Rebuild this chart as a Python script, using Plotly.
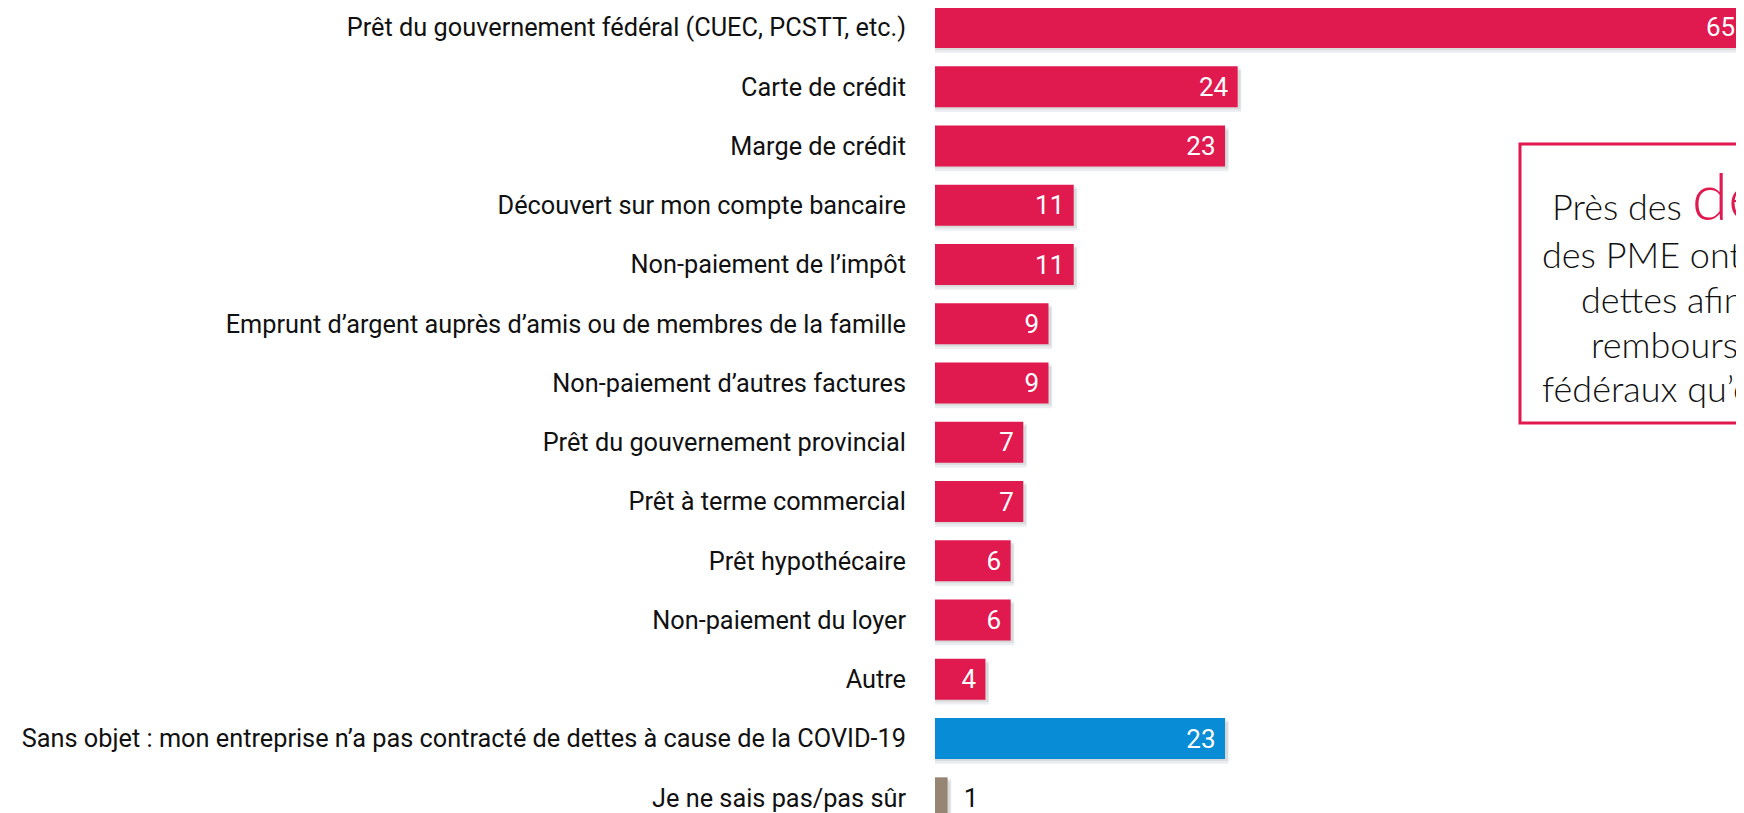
import plotly.graph_objects as go

# Données (en %)
categories = [
    "Prêt du gouvernement fédéral (CUEC, PCSTT, etc.)",
    "Carte de crédit",
    "Marge de crédit",
    "Découvert sur mon compte bancaire",
    "Non-paiement de l’impôt",
    "Emprunt d’argent auprès d’amis ou de membres de la famille",
    "Non-paiement d’autres factures",
    "Prêt du gouvernement provincial",
    "Prêt à terme commercial",
    "Prêt hypothécaire",
    "Non-paiement du loyer",
    "Autre",
    "Sans objet : mon entreprise n’a pas contracté de dettes à cause de la COVID-19",
    "Je ne sais pas/pas sûr",
]
values = [65, 24, 23, 11, 11, 9, 9, 7, 7, 6, 6, 4, 23, 1]
kinds = ["dette"] * 12 + ["sans_objet", "ne_sait_pas"]

callout_head = ("Près des ", "deux tiers")
callout_lines = [
    "des PME ont contracté des",
    "dettes afin de pouvoir",
    "rembourser les prêts",
    "fédéraux qu’elles ont reçus",
]

RED = "#E0194F"
COLORS = {"dette": RED, "sans_objet": "#078CD5", "ne_sait_pas": "#978574"}

# la page ajoute une marge de 8 px autour de la figure
PAGE_MARGIN = 8
W, H = 1744 - PAGE_MARGIN, 813 - PAGE_MARGIN
LEFT = 935 - PAGE_MARGIN
X_MAX = 64.15
BAR_W = 0.69
NUM_FONT = dict(family="Roboto", size=26)


def px_x(px):
    return (px - PAGE_MARGIN - LEFT) / (W - LEFT)


def px_y(py):
    return 1 - (py - PAGE_MARGIN) / H


fig = go.Figure()

# ombre légère sous les barres
for shift, alpha in ((0.075, 0.07), (0.04, 0.08)):
    fig.add_bar(
        x=[v + 0.25 for v in values],
        y=categories,
        orientation="h",
        width=BAR_W,
        offset=-BAR_W / 2 + shift,
        marker_color=f"rgba(0,0,0,{alpha})",
        hoverinfo="skip",
        showlegend=False,
    )

positions = []
for v in values:
    if v > X_MAX:
        positions.append("none")
    elif v < 2:
        positions.append("outside")
    else:
        positions.append("inside")

fig.add_bar(
    x=values,
    y=categories,
    orientation="h",
    width=BAR_W,
    offset=-BAR_W / 2,
    marker_color=[COLORS[k] for k in kinds],
    marker_line_width=0,
    text=[
        f"\u2002{v}" if p == "outside" else f"{v}\u00a0"
        for v, p in zip(values, positions)
    ],
    textposition=positions,
    insidetextanchor="end",
    textfont=dict(
        **NUM_FONT,
        color=["#111111" if p == "outside" else "white" for p in positions],
    ),
    cliponaxis=False,
    showlegend=False,
)

# étiquette des barres qui dépassent le bord droit
for cat, v in zip(categories, values):
    if v > X_MAX:
        fig.add_annotation(
            x=X_MAX,
            y=cat,
            xanchor="right",
            xshift=-7,
            showarrow=False,
            text=str(v),
            font=dict(**NUM_FONT, color="white"),
        )

fig.update_layout(
    width=W,
    height=H,
    barmode="overlay",
    margin=dict(l=LEFT, r=0, t=0, b=0),
    paper_bgcolor="white",
    plot_bgcolor="white",
    font=dict(family="Roboto", color="#111111"),
    uniformtext=dict(mode="show", minsize=20),
)
fig.update_xaxes(range=[0, X_MAX], visible=False)
fig.update_yaxes(
    categoryorder="array",
    categoryarray=categories,
    range=[13.257, -0.329],
    showgrid=False,
    zeroline=False,
    showline=False,
    ticks="",
    ticklabelstandoff=28,
    tickfont=dict(family="Roboto", size=25.3, color="#111111"),
)

# encadré de droite (coupé par le bord de l'image)
fig.add_shape(
    type="rect",
    xref="paper",
    yref="paper",
    x0=px_x(1520),
    x1=px_x(2000),
    y0=px_y(423),
    y1=px_y(144),
    line=dict(color=RED, width=3),
    fillcolor="rgba(0,0,0,0)",
    layer="above",
)
box_font = dict(family="Lato", size=36, color="#111111", weight=300)
fig.add_annotation(
    xref="paper",
    yref="paper",
    x=px_x(1550),
    y=px_y(236),
    xanchor="left",
    yanchor="bottom",
    showarrow=False,
    text=(
        f"{callout_head[0]}"
        f"<span style='color:{RED};font-size:66px'>{callout_head[1]}</span>"
    ),
    font=box_font,
)
line_starts = [1540, 1579, 1589, 1540]
line_baselines = [267, 312, 357, 401]
for txt, x0, yb in zip(callout_lines, line_starts, line_baselines):
    fig.add_annotation(
        xref="paper",
        yref="paper",
        x=px_x(x0),
        y=px_y(yb),
        xanchor="left",
        yanchor="bottom",
        yshift=-11,
        showarrow=False,
        text=txt,
        font=box_font,
    )

fig.write_html("out.html")
